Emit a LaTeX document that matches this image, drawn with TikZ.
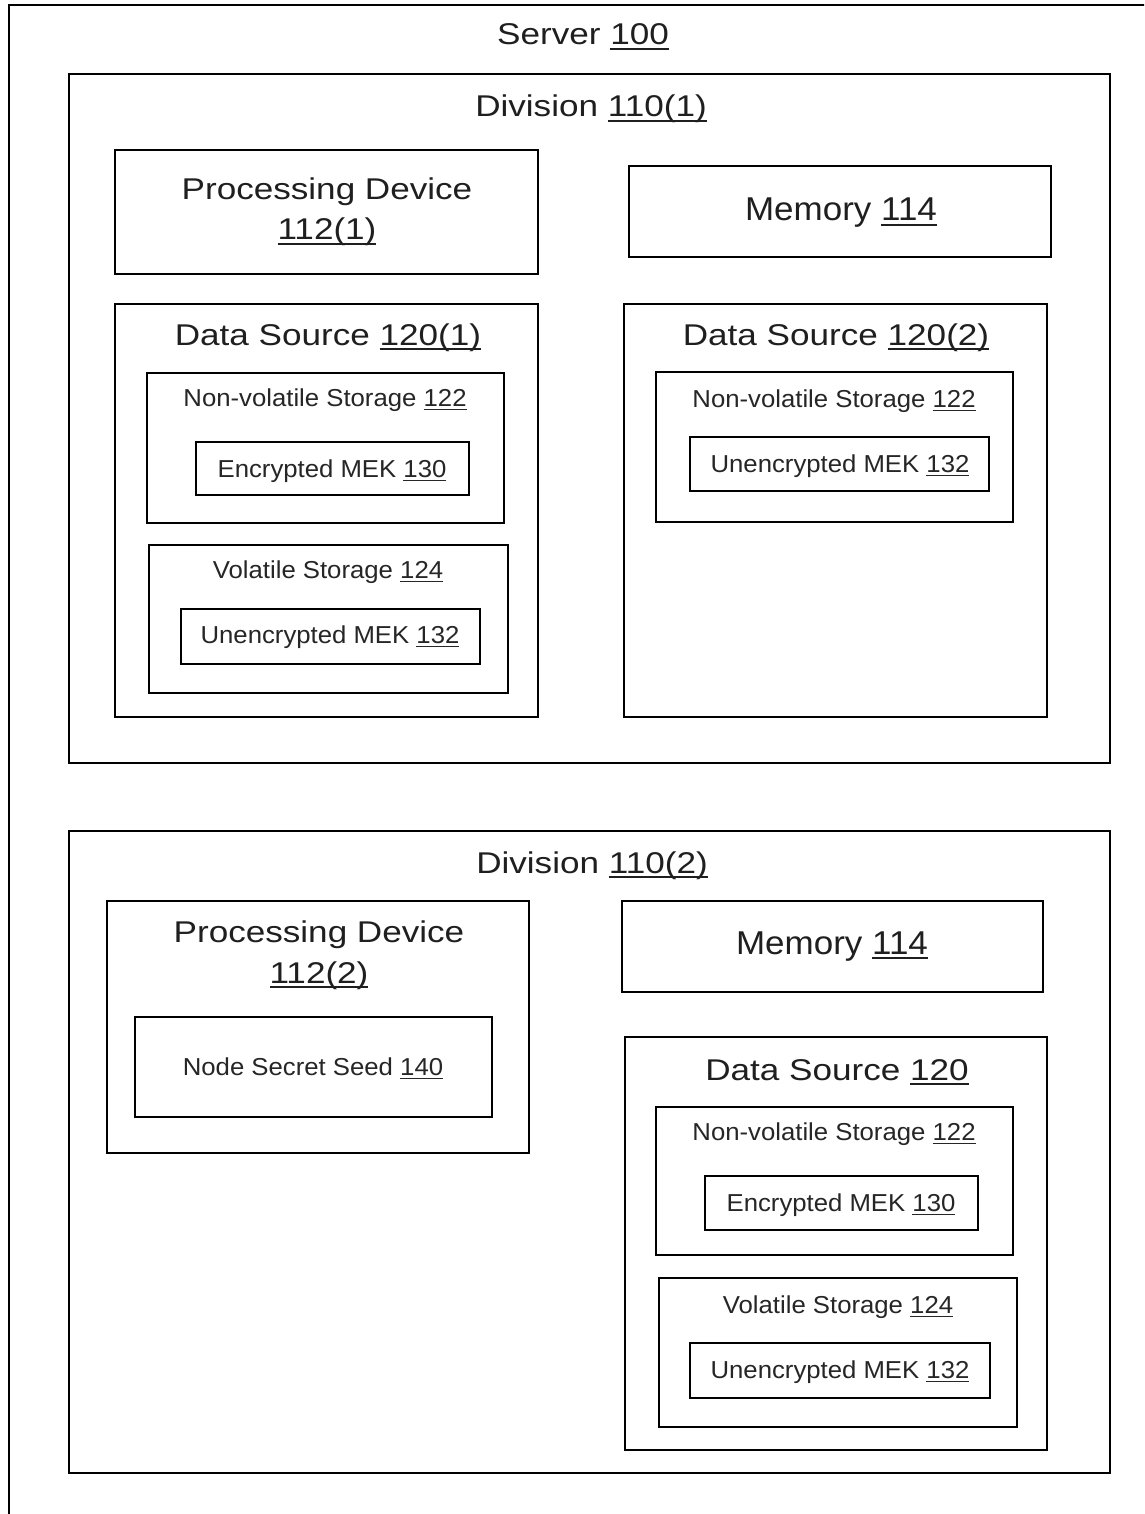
\documentclass[tikz,border=0pt]{standalone}
\usepackage{fontspec}
\usetikzlibrary{fit}
\setmainfont{Liberation Sans}
\newfontfamily\bigfont{Liberation Sans}[FakeStretch=1.17]
\newfontfamily\memfont{Liberation Sans}[FakeStretch=1.06]
\newfontfamily\smallfont{Liberation Sans}[FakeStretch=1.05]
% reference numerals: underlined with a thin rule just below the baseline
\newcommand\refnum[1]{\setbox0\hbox{#1}\rlap{\rule[-0.16em]{\wd0}{0.055em}}\box0}
\tikzset{
  box/.style={draw=black, line width=2.6pt, inner sep=0pt, rectangle},
  frame/.style={draw=black, line width=2.6pt},
  bigtxt/.style={anchor=base, inner sep=0pt, text=black!88, font=\bigfont\fontsize{30}{36}\selectfont},
  memtxt/.style={anchor=base, inner sep=0pt, text=black!88, font=\memfont\fontsize{33}{38}\selectfont},
  smalltxt/.style={anchor=base, inner sep=0pt, text=black!85, font=\smallfont\fontsize{24.5}{29}\selectfont},
}
\begin{document}
\begin{tikzpicture}[x=1pt, y=-1pt]
\useasboundingbox (0,0) rectangle (1144,1514);
\fill[white] (0,0) rectangle (1144,1514);
\begin{scope}
\clip (0,0) rectangle (1144,1514);
% server enclosure (runs past the right and bottom edges)
\coordinate (srv-bl) at (9,1540);
\coordinate (srv-tl) at (9,5);
\coordinate (srv-tr) at (1170,5);
\draw[frame] (srv-bl) -- (srv-tl) -- (srv-tr);
\end{scope}
\node[bigtxt] (t-server) at (583,45) {Server \refnum{100}};

% ---------------- Division 110(1) ----------------
\node[box, fit={(69,74) (1110,763)}] (div1) {};
\node[bigtxt] (t-div1) at (591,117) {Division \refnum{110(1)}};

\node[box, fit={(115,150) (538,274)}] (pd1) {};
\node[bigtxt] (t-pd1a) at (327,200) {Processing Device};
\node[bigtxt] (t-pd1b) at (327,240) {\refnum{112(1)}};

\node[box, fit={(629,166) (1051,257)}] (mem1) {};
\node[memtxt] (t-mem1) at (841,221) {Memory \refnum{114}};

\node[box, fit={(115,304) (538,717)}] (ds1) {};
\node[bigtxt] (t-ds1) at (328,345) {Data Source \refnum{120(1)}};
\node[box, fit={(147,373) (504,523)}] (ds1nv) {};
\node[smalltxt] (t-ds1nv) at (325,406) {Non-volatile Storage \refnum{122}};
\node[box, fit={(196,442) (469,495)}] (ds1enc) {};
\node[smalltxt] (t-ds1enc) at (332,477) {Encrypted MEK \refnum{130}};
\node[box, fit={(149,545) (508,693)}] (ds1vol) {};
\node[smalltxt] (t-ds1vol) at (328,578) {Volatile Storage \refnum{124}};
\node[box, fit={(181,609) (480,664)}] (ds1unenc) {};
\node[smalltxt] (t-ds1unenc) at (330,643) {Unencrypted MEK \refnum{132}};

\node[box, fit={(624,304) (1047,717)}] (ds2) {};
\node[bigtxt] (t-ds2) at (836,345) {Data Source \refnum{120(2)}};
\node[box, fit={(656,372) (1013,522)}] (ds2nv) {};
\node[smalltxt] (t-ds2nv) at (834,407) {Non-volatile Storage \refnum{122}};
\node[box, fit={(690,437) (989,491)}] (ds2unenc) {};
\node[smalltxt] (t-ds2unenc) at (840,472) {Unencrypted MEK \refnum{132}};

% ---------------- Division 110(2) ----------------
\node[box, fit={(69,831) (1110,1473)}] (div2) {};
\node[bigtxt] (t-div2) at (592,873) {Division \refnum{110(2)}};

\node[box, fit={(107,901) (529,1153)}] (pd2) {};
\node[bigtxt] (t-pd2a) at (319,942) {Processing Device};
\node[bigtxt] (t-pd2b) at (319,983) {\refnum{112(2)}};
\node[box, fit={(135,1017) (492,1117)}] (seed) {};
\node[smalltxt] (t-seed) at (313,1075) {Node Secret Seed \refnum{140}};

\node[box, fit={(622,901) (1043,992)}] (mem2) {};
\node[memtxt] (t-mem2) at (832,954) {Memory \refnum{114}};

\node[box, fit={(625,1037) (1047,1450)}] (ds3) {};
\node[bigtxt] (t-ds3) at (837,1080) {Data Source \refnum{120}};
\node[box, fit={(656,1107) (1013,1255)}] (ds3nv) {};
\node[smalltxt] (t-ds3nv) at (834,1140) {Non-volatile Storage \refnum{122}};
\node[box, fit={(705,1176) (978,1230)}] (ds3enc) {};
\node[smalltxt] (t-ds3enc) at (841,1211) {Encrypted MEK \refnum{130}};
\node[box, fit={(659,1278) (1017,1427)}] (ds3vol) {};
\node[smalltxt] (t-ds3vol) at (838,1313) {Volatile Storage \refnum{124}};
\node[box, fit={(690,1343) (990,1398)}] (ds3unenc) {};
\node[smalltxt] (t-ds3unenc) at (840,1378) {Unencrypted MEK \refnum{132}};
\end{tikzpicture}
\end{document}
